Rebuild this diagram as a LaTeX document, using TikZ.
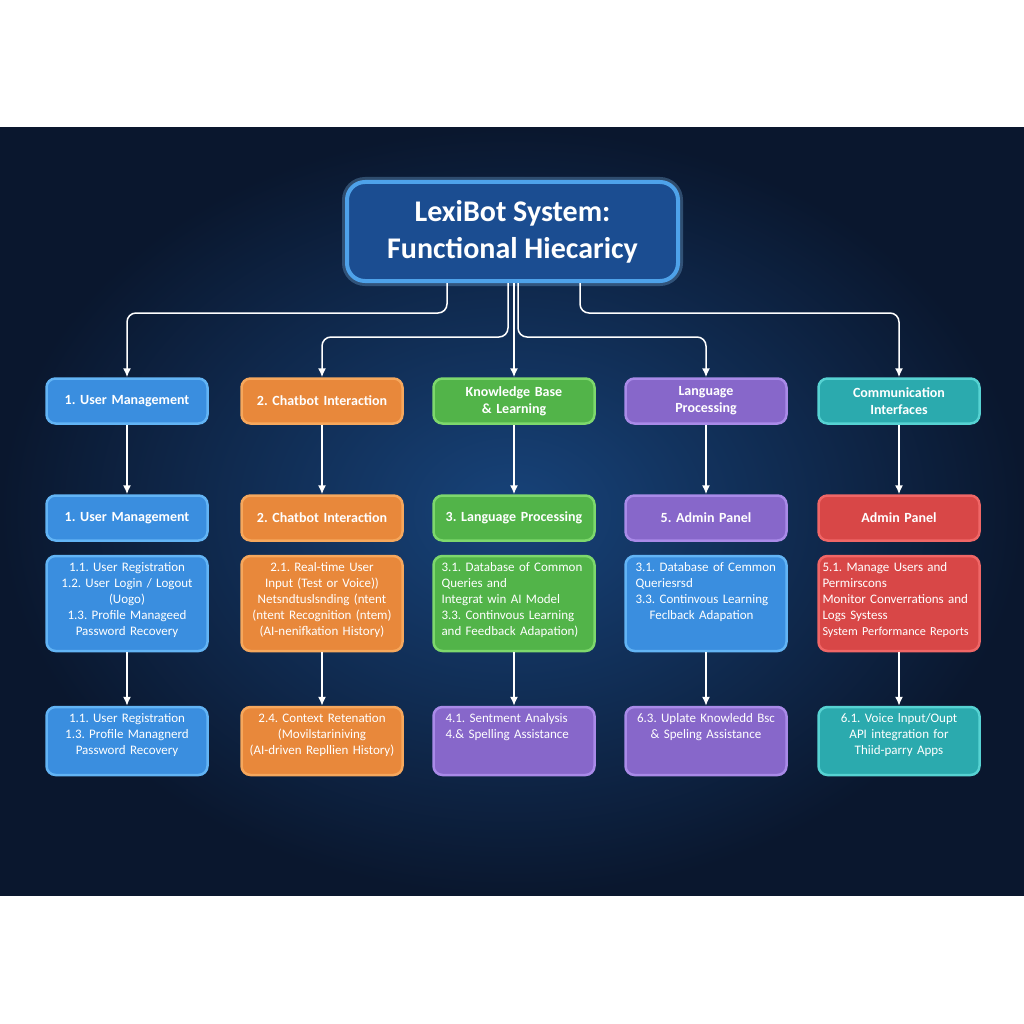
\documentclass[tikz,border=0pt]{standalone}
\usepackage{fontspec}
\setmainfont{Carlito}
\frenchspacing
\usetikzlibrary{arrows.meta}

\definecolor{bgin}{HTML}{17437A}
\definecolor{bgout}{HTML}{0A172E}
\definecolor{titleF}{HTML}{1B4D91}
\definecolor{titleL}{HTML}{4EA2EA}
\definecolor{blueF}{HTML}{3A8EDF}
\definecolor{blueL}{HTML}{62B4F5}
\definecolor{orangeF}{HTML}{E8883B}
\definecolor{orangeL}{HTML}{F6A75C}
\definecolor{greenF}{HTML}{52B449}
\definecolor{greenL}{HTML}{7DD86C}
\definecolor{purpleF}{HTML}{8767CA}
\definecolor{purpleL}{HTML}{A98AE8}
\definecolor{tealF}{HTML}{2BAAAE}
\definecolor{tealL}{HTML}{56D2D2}
\definecolor{redF}{HTML}{D84747}
\definecolor{redL}{HTML}{F06666}

\begin{document}
\begin{tikzpicture}[x=1pt, y=-1pt, >={Latex[length=9pt, width=8pt]},
    conn/.style = {->, draw=white, line width=1.5pt, rounded corners=9pt},
    title/.style = {draw=titleL, fill=titleF, line width=4pt, rounded corners=18pt,
        minimum width=331pt, minimum height=99pt, align=center, text=white,
        font=\bfseries\fontsize{30}{37}\selectfont,
        preaction={draw=titleL!70!white, line width=10pt, draw opacity=0.3}},
    cell/.style = {draw, rounded corners=9pt, line width=2.5pt, text=white,
        minimum width=161pt, text width=153pt, inner xsep=4pt, inner ysep=5pt},
    head/.style = {cell, align=center, minimum height=45pt, font=\bfseries\fontsize{14}{17}\selectfont},
    tall/.style = {cell, font=\fontsize{13}{16}\selectfont, text height=10.5pt, text depth=74.5pt},
    low/.style = {cell, font=\fontsize{13}{16}\selectfont, text height=10pt, text depth=48pt},
    ublue/.style = {fill=blueF, draw=blueL},
    uorange/.style = {fill=orangeF, draw=orangeL},
    ugreen/.style = {fill=greenF, draw=greenL},
    upurple/.style = {fill=purpleF, draw=purpleL},
    uteal/.style = {fill=tealF, draw=tealL},
    ured/.style = {fill=redF, draw=redL}]

    % Background
    \fill[white] (0,0) rectangle (1024,1024);
    \shade[inner color=bgin, outer color=bgout] (0,128) rectangle (1024,895);

    % Nodes
    \node[title] (title) at (512.5, 231.5) {LexiBot System:\\Functional Hiecaricy};

    \node[head, ublue] (r1a) at (127, 401) {1. User Management};
    \node[head, uorange] (r1b) at (322, 401) {2. Chatbot Interaction};
    \node[head, ugreen] (r1c) at (514, 401) {Knowledge Base\\\& Learning};
    \node[head, upurple] (r1d) at (706, 401) {Language\\Processing};
    \node[head, uteal] (r1e) at (899, 401) {Communication\\Interfaces};

    \node[head, ublue] (r2a) at (127, 518) {1. User Management};
    \node[head, uorange] (r2b) at (322, 518) {2. Chatbot Interaction};
    \node[head, ugreen] (r2c) at (514, 518) {3. Language Processing};
    \node[head, upurple] (r2d) at (706, 518) {5. Admin Panel};
    \node[head, ured] (r2e) at (899, 518) {Admin Panel};

    \node[tall, ublue, align=center] (r3a) at (127, 603.5)
        {1.1. User Registration\\1.2. User Login / Logout\\(Uogo)\\1.3. Profile Manageed\\Password Recovery};
    \node[tall, uorange, align=center] (r3b) at (322, 603.5)
        {2.1. Real-time User\\Input (Test or Voice))\\Netsndtuslsnding (ntent\\(ntent Recognition (ntem)\\(AI-nenifkation History)};
    \node[tall, ugreen, align=left] (r3c) at (514, 603.5)
        {\hspace*{4pt}3.1. Database of Common\\\hspace*{4pt}Queries and\\\hspace*{4pt}Integrat win AI Model\\\hspace*{4pt}3.3. Continvous Learning\\\hspace*{4pt}and Feedback Adapation)};
    \node[tall, ublue, align=left] (r3d) at (706, 603.5)
        {\hspace*{6pt}3.1. Database of Cemmon\\\hspace*{6pt}Queriesrsd\\\hspace*{6pt}3.3. Continvous Learning\\\hspace*{20pt}Feclback Adapation};
    \node[tall, ured, align=left] (r3e) at (899, 603.5)
        {5.1. Manage Users and\\Permirscons\\Monitor Converrations and\\Logs Systess\\{\fontsize{12.2}{16}\selectfont System Performance Reports}};

    \node[low, ublue, align=center] (r4a) at (127, 741)
        {1.1. User Registration\\1.3. Profile Managnerd\\Password Recovery};
    \node[low, uorange, align=center] (r4b) at (322, 741)
        {2.4. Context Retenation\\(Movilstariniving\\(AI-driven Repllien History)};
    \node[low, upurple, align=left] (r4c) at (514, 741)
        {\hspace*{8pt}4.1. Sentment Analysis\\\hspace*{8pt}4.\& Spelling Assistance};
    \node[low, upurple, align=center] (r4d) at (706, 741)
        {6.3. Uplate Knowledd Bsc\\\& Speling Assistance};
    \node[low, uteal, align=center] (r4e) at (899, 741)
        {6.1. Voice lnput/Oupt\\API integration for\\Thiid-parry Apps};

    % Edges
    \draw[conn] ([xshift=-65.5pt]title.south) -- ++(0,30) -| (r1a);
    \draw[conn] ([xshift=-4.5pt]title.south) -- ++(0,54) -| (r1b);
    \draw[conn] (title.south -| r1c) -- (r1c);
    \draw[conn] ([xshift=5.5pt]title.south) -- ++(0,54) -| (r1d);
    \draw[conn] ([xshift=67.5pt]title.south) -- ++(0,30) -| (r1e);

    \foreach \c in {a,b,c,d,e} {
        \draw[conn] (r1\c) -- (r2\c);
        \draw[conn] (r3\c) -- (r4\c);
    }

\end{tikzpicture}
\end{document}
